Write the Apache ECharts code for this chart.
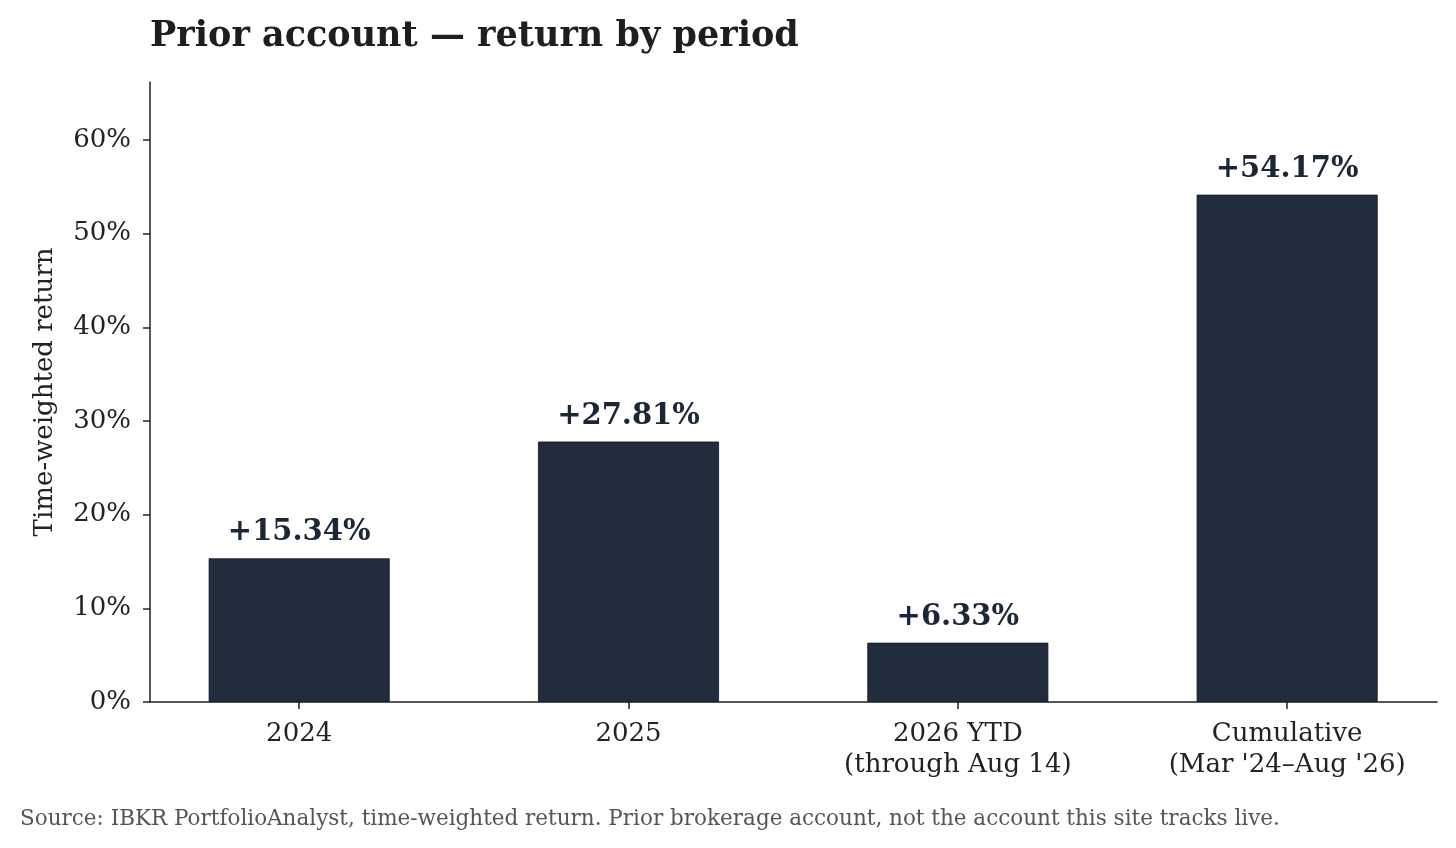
<!DOCTYPE html>
<html>
<head>
<meta charset="utf-8">
<script src="https://cdn.jsdelivr.net/npm/echarts@6/dist/echarts.min.js"></script>
<style>
  html, body { margin: 0; padding: 0; background: #fff; }
  #chart { width: 1456px; height: 848px; }
</style>
</head>
<body>
<div id="chart"></div>
<script>
const categories = ['2024', '2025', '2026 YTD\n(through Aug 14)', "Cumulative\n(Mar '24\u2013Aug '26)"]
const returns = [15.34, 27.81, 6.33, 54.17]
const yTicks = [0, 10, 20, 30, 40, 50, 60]

const serif = '"DejaVu Serif", serif'
const ink = '#222222'
const barColor = '#212d3c'

const myChart = echarts.init(document.getElementById('chart'))
myChart.setOption({
  animation: false,
  title: [
    {
      text: 'Prior account \u2014 return by period',
      left: 145,
      top: 14,
      textStyle: { fontFamily: serif, fontWeight: 'bold', fontSize: 35, color: '#1e1e1e' },
    },
    {
      text: 'Source: IBKR PortfolioAnalyst, time-weighted return. Prior brokerage account, not the account this site tracks live.',
      left: 15,
      top: 803,
      textStyle: { fontFamily: serif, fontWeight: 'normal', fontSize: 21.5, color: '#555555' },
    },
  ],
  grid: { left: 150, right: 19, top: 82, bottom: 146 },
  xAxis: {
    type: 'value',
    min: -0.453,
    max: 3.455,
    splitLine: { show: false },
    axisLine: { show: true, onZero: false, lineStyle: { color: ink, width: 1.5 } },
    axisTick: { show: true, customValues: [0, 1, 2, 3], length: 7, lineStyle: { color: ink, width: 1.5 } },
    axisLabel: {
      customValues: [0, 1, 2, 3],
      formatter: (v) => categories[Math.round(v)],
      fontFamily: serif,
      fontSize: 26,
      color: ink,
      lineHeight: 31,
      margin: 17,
      verticalAlign: 'top',
    },
  },
  yAxis: {
    type: 'value',
    min: 0,
    max: 66.2,
    interval: 10,
    name: 'Time-weighted return',
    nameLocation: 'middle',
    nameGap: 92,
    nameTextStyle: { fontFamily: serif, fontSize: 26, color: ink },
    splitLine: { show: false },
    axisLine: { show: true, onZero: false, lineStyle: { color: ink, width: 1.5 } },
    axisTick: { show: true, customValues: yTicks, length: 7, lineStyle: { color: ink, width: 1.5 } },
    axisLabel: {
      customValues: yTicks,
      formatter: '{value}%',
      fontFamily: serif,
      fontSize: 26,
      color: ink,
      margin: 19,
    },
  },
  series: [
    {
      type: 'bar',
      data: returns.map((v, i) => [i, v]),
      barWidth: 181,
      itemStyle: { color: barColor, borderColor: '#0f1722', borderWidth: 0.8 },
      label: {
        show: true,
        position: 'top',
        distance: 11,
        formatter: (p) => '+' + p.value[1].toFixed(2) + '%',
        fontFamily: serif,
        fontWeight: 'bold',
        fontSize: 29,
        color: '#1b2636',
      },
    },
  ],
})
</script>
</body>
</html>
